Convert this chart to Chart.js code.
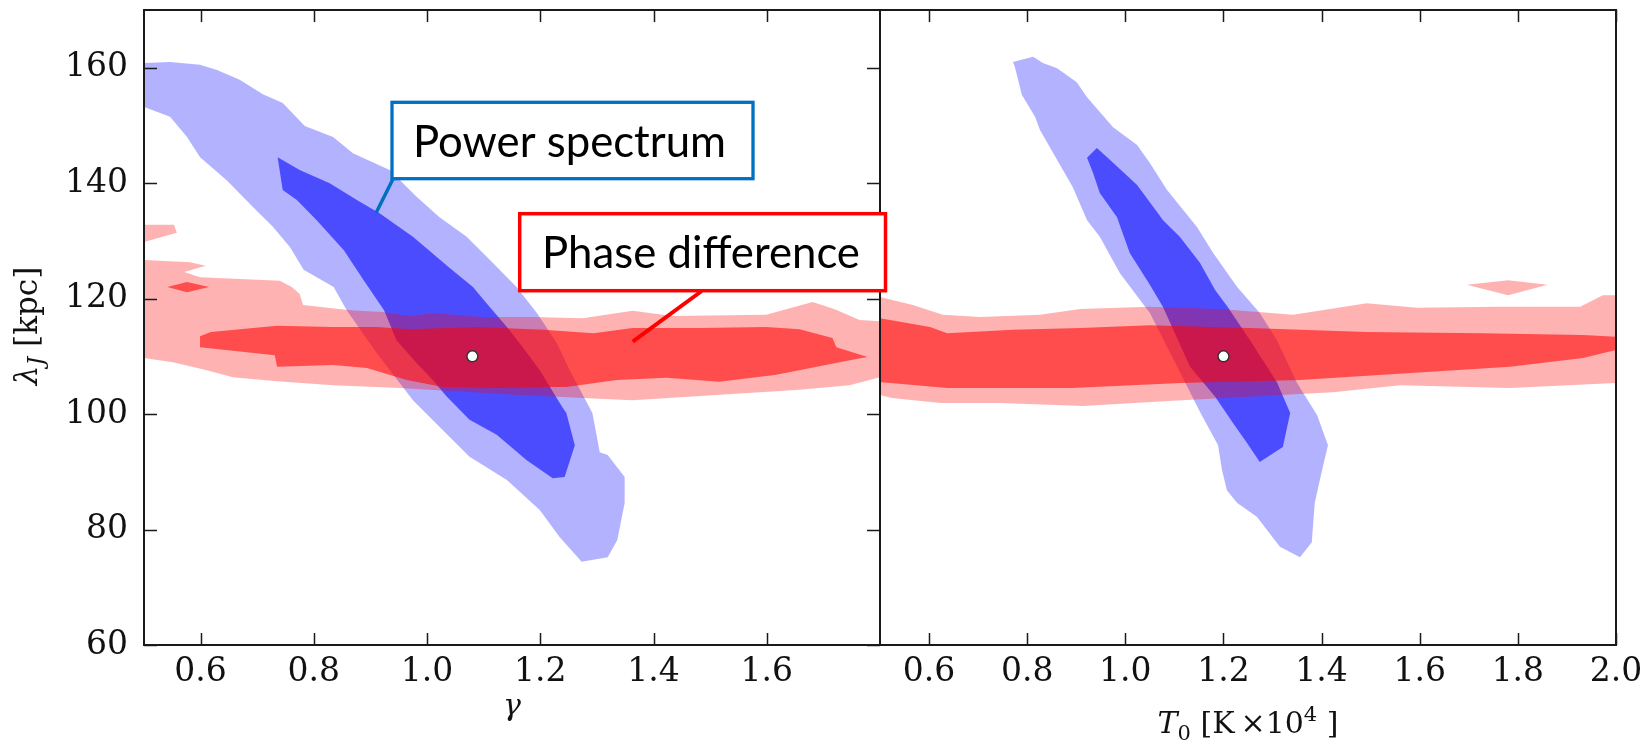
<!DOCTYPE html>
<html>
<head>
<meta charset="utf-8">
<title>Jeans length constraints</title>
<script src="https://cdn.jsdelivr.net/npm/chart.js@4.4.1/dist/chart.umd.min.js"></script>
<style>
  html, body { margin: 0; padding: 0; background: #ffffff; }
  #wrap { position: relative; width: 1651px; height: 742px; overflow: hidden; background: #ffffff; }
  #cRight { position: absolute; left: 800px; top: 0; }
  #cLeft { position: absolute; left: 0; top: 0; }
</style>
</head>
<body>
<div id="wrap">
  <canvas id="cRight" width="851" height="742"></canvas>
  <canvas id="cLeft" width="900" height="742"></canvas>
</div>
<script>
// ---- axis ranges and tick values ----
const lambdaRange = [60, 170];
const gammaRange = [0.5, 1.8];
const t0Range = [0.5, 2.0];
const lambdaTicks = [60, 80, 100, 120, 140, 160];
const gammaTicks = [0.6, 0.8, 1.0, 1.2, 1.4, 1.6];
const t0Ticks = [0.6, 0.8, 1.0, 1.2, 1.4, 1.6, 1.8, 2.0];

// ---- gamma vs lambda_J : power spectrum contours ----
const gammaPs95 = [[0.500,160.8],[0.546,161.0],[0.599,160.5],[0.629,159.6],[0.669,157.9],[0.710,155.4],[0.745,153.9],[0.784,149.9],[0.834,148.0],[0.869,145.2],[0.934,142.3],[0.982,137.6],[1.022,134.1],[1.070,130.7],[1.116,126.2],[1.158,122.0],[1.194,117.5],[1.229,112.3],[1.252,107.6],[1.292,100.2],[1.305,93.4],[1.319,92.9],[1.349,89.1],[1.349,84.6],[1.336,78.2],[1.319,75.2],[1.273,74.4],[1.234,78.7],[1.199,83.4],[1.141,88.6],[1.075,92.6],[1.028,97.2],[0.975,102.4],[0.911,110.6],[0.858,118.0],[0.835,122.0],[0.782,125.0],[0.758,128.9],[0.728,132.4],[0.692,135.9],[0.646,140.5],[0.599,144.5],[0.576,148.0],[0.546,151.5],[0.500,153.2]];
const gammaPs68 = [[0.736,144.5],[0.775,142.3],[0.828,140.0],[0.876,137.1],[0.916,134.8],[0.975,130.7],[1.040,125.3],[1.081,122.0],[1.111,118.5],[1.141,115.1],[1.169,111.6],[1.199,107.6],[1.239,101.2],[1.246,100.2],[1.261,94.6],[1.243,89.1],[1.222,88.9],[1.176,92.0],[1.123,96.4],[1.075,99.0],[1.035,103.0],[1.010,105.9],[0.982,108.8],[0.946,112.8],[0.924,118.0],[0.888,123.2],[0.853,128.4],[0.805,133.6],[0.770,137.1],[0.745,138.8]];

// ---- gamma vs lambda_J : phase difference contours ----
const gammaPd95 = [[0.500,126.7],[0.581,126.3],[0.609,125.7],[0.571,124.6],[0.599,123.7],[0.740,123.1],[0.761,122.0],[0.775,120.8],[0.781,118.9],[0.864,118.0],[0.922,117.7],[0.969,117.0],[1.010,117.5],[1.098,116.8],[1.186,116.8],[1.275,116.6],[1.363,117.9],[1.433,117.0],[1.599,117.2],[1.681,119.4],[1.719,118.2],[1.764,116.3],[1.800,116.1],[1.800,106.4],[1.746,105.0],[1.658,104.2],[1.511,103.3],[1.363,102.4],[1.275,102.8],[1.128,103.5],[1.040,104.0],[0.952,104.5],[0.834,105.0],[0.735,105.7],[0.657,106.4],[0.611,107.6],[0.551,109.0],[0.500,109.7]];
const gammaPd95Islet = [[0.500,132.8],[0.553,132.8],[0.558,131.4],[0.500,129.8]];
const gammaPd68 = [[0.599,113.5],[0.618,114.2],[0.735,115.3],[0.834,115.1],[0.911,115.1],[0.971,114.7],[1.088,115.1],[1.206,114.6],[1.294,114.0],[1.363,114.9],[1.481,114.9],[1.599,115.1],[1.658,114.7],[1.716,113.2],[1.723,111.6],[1.778,109.9],[1.751,109.4],[1.617,106.8],[1.516,105.6],[1.423,106.3],[1.335,105.9],[1.246,104.7],[1.211,104.7],[1.128,104.5],[1.028,104.7],[0.964,105.9],[0.894,108.0],[0.834,108.5],[0.735,108.2],[0.731,110.2],[0.599,111.6]];
const gammaPd68Islet = [[0.541,122.0],[0.576,122.9],[0.615,122.0],[0.576,121.1]];
const gammaBest = [[1.08, 110]];

// ---- T0 vs lambda_J : power spectrum contours ----
const t0Ps95 = [[0.771,161.0],[0.812,161.9],[0.832,160.8],[0.861,159.9],[0.901,157.5],[0.922,154.9],[0.975,149.7],[1.024,146.6],[1.050,143.5],[1.085,138.8],[1.146,132.4],[1.179,127.9],[1.228,122.0],[1.274,117.5],[1.309,112.8],[1.350,105.4],[1.391,99.8],[1.413,94.6],[1.401,90.3],[1.386,84.6],[1.380,77.8],[1.356,75.2],[1.315,77.0],[1.268,82.2],[1.228,84.6],[1.207,86.8],[1.197,90.3],[1.189,94.6],[1.152,100.4],[1.107,108.0],[1.050,117.5],[0.989,124.4],[0.948,130.7],[0.922,133.6],[0.893,139.3],[0.826,149.2],[0.816,151.5],[0.789,155.3],[0.775,160.1]];
const t0Ps68 = [[0.922,144.4],[0.942,146.1],[0.969,144.0],[1.024,139.7],[1.077,133.6],[1.111,130.7],[1.152,126.2],[1.183,121.5],[1.209,118.5],[1.254,112.8],[1.309,105.5],[1.336,100.2],[1.321,94.3],[1.274,91.7],[1.248,95.0],[1.219,98.5],[1.183,103.0],[1.132,108.2],[1.077,118.5],[1.050,122.4],[1.009,127.9],[0.983,134.1],[0.948,138.3],[0.934,141.8]];

// ---- T0 vs lambda_J : phase difference contours ----
const t0Pd95 = [[0.500,120.3],[0.567,118.9],[0.628,117.2],[0.704,116.8],[0.826,117.2],[0.908,118.2],[1.050,118.6],[1.193,118.2],[1.342,117.2],[1.492,119.2],[1.594,118.4],[1.763,118.6],[1.927,118.6],[1.973,120.6],[2.000,120.6],[2.000,105.4],[1.784,104.5],[1.560,105.0],[1.423,103.8],[1.097,102.3],[0.914,101.4],[0.745,101.9],[0.624,101.9],[0.524,102.8],[0.500,103.3]];
const t0Pd95Islet = [[1.696,122.4],[1.780,123.2],[1.861,122.4],[1.780,120.6]];
const t0Pd68 = [[0.500,116.6],[0.602,115.1],[0.637,114.0],[0.771,114.6],[0.908,114.9],[1.050,115.4],[1.254,114.9],[1.492,114.2],[1.729,114.0],[1.933,113.7],[2.000,113.4],[2.000,111.1],[1.933,109.7],[1.784,108.2],[1.525,106.8],[1.356,105.9],[1.113,105.4],[0.891,104.5],[0.637,104.5],[0.504,105.5],[0.500,105.5]];
const t0Best = [[1.2, 110]];

// ---- styling ----
// outer (95%) band drawn at alpha 0.3; the inner (68%) fill stacks on top of it so the
// inner region ends up at an effective alpha of 0.7
const BLUE_OUT = 'rgba(0,0,255,0.30)';
const BLUE_IN = 'rgba(0,0,255,0.5714)';
const RED_OUT = 'rgba(255,0,0,0.30)';
const RED_IN = 'rgba(255,0,0,0.5714)';
const SERIF = '"DejaVu Serif", serif';
const INK = '#111111';

const toXY = arr => arr.map(p => ({ x: p[0], y: p[1] }));

function region(points, color, order) {
  return {
    data: toXY(points),
    backgroundColor: color,
    borderColor: 'rgba(0,0,0,0)',
    borderWidth: 0,
    pointRadius: 0,
    pointHoverRadius: 0,
    tension: 0,
    fill: 'shape',
    order: order
  };
}

function bestFit(points) {
  return {
    data: toXY(points),
    showLine: false,
    pointRadius: 5.5,
    pointHoverRadius: 5.5,
    pointBackgroundColor: '#ffffff',
    pointBorderColor: '#333333',
    pointBorderWidth: 1.5,
    order: 0
  };
}

// Frame around the plotting area and inward-pointing tick marks
const frameTicks = {
  id: 'frameTicks',
  afterDatasetsDraw(chart, args, opts) {
    const { ctx, chartArea: a, scales } = chart;
    const len = 12;
    ctx.save();
    ctx.strokeStyle = '#1a1a1a';
    ctx.lineWidth = 1.5;
    ctx.beginPath();
    scales.x.ticks.forEach(t => {
      const px = Math.round(scales.x.getPixelForValue(t.value)) + 0.5;
      ctx.moveTo(px, a.bottom); ctx.lineTo(px, a.bottom - len);
      ctx.moveTo(px, a.top); ctx.lineTo(px, a.top + len);
    });
    if (opts.yTicks) {
      scales.y.ticks.forEach(t => {
        const py = Math.round(scales.y.getPixelForValue(t.value)) + 0.5;
        ctx.moveTo(a.left, py); ctx.lineTo(a.left + len + 1, py);
        ctx.moveTo(a.right, py); ctx.lineTo(a.right - len - 1, py);
      });
    }
    ctx.stroke();
    ctx.lineWidth = 2;
    ctx.strokeRect(a.left, a.top, a.width, a.height);
    ctx.restore();
  }
};

// Text made of several runs (italic symbols, sub- and superscripts)
function runsWidth(ctx, runs) {
  let w = 0;
  runs.forEach(r => {
    ctx.font = (r.italic ? 'italic ' : '') + r.size + 'px ' + SERIF;
    r.w = ctx.measureText(r.t).width;
    w += r.w;
  });
  return w;
}
function drawRuns(ctx, runs, cx, baseY) {
  const w = runsWidth(ctx, runs);
  let x = cx - w / 2;
  ctx.textAlign = 'left';
  ctx.textBaseline = 'alphabetic';
  runs.forEach(r => {
    ctx.font = (r.italic ? 'italic ' : '') + r.size + 'px ' + SERIF;
    ctx.fillText(r.t, x, baseY + (r.dy || 0));
    x += r.w;
  });
}

const axisTitles = {
  id: 'axisTitles',
  afterDraw(chart, args, opts) {
    const { ctx, chartArea: a } = chart;
    ctx.save();
    ctx.fillStyle = INK;
    drawRuns(ctx, opts.xRuns, (a.left + a.right) / 2, opts.xBase);
    if (opts.yRuns) {
      ctx.translate(opts.yBase, opts.yMid);
      ctx.rotate(-Math.PI / 2);
      drawRuns(ctx, opts.yRuns, 0, 0);
    }
    ctx.restore();
  }
};

// Labelled call-out boxes pointing at the two sets of contours
const CALLOUT_FONT = 'Lato, "Open Sans", sans-serif';
function callout(ctx, c) {
  ctx.save();
  ctx.strokeStyle = c.color;
  ctx.lineCap = 'butt';
  ctx.lineWidth = c.leaderWidth;
  ctx.beginPath();
  ctx.moveTo(c.leader[0], c.leader[1]);
  ctx.lineTo(c.leader[2], c.leader[3]);
  ctx.stroke();
  ctx.fillStyle = '#ffffff';
  ctx.fillRect(c.x0, c.y0, c.x1 - c.x0, c.y1 - c.y0);
  ctx.lineWidth = c.boxWidth;
  ctx.strokeRect(c.x0, c.y0, c.x1 - c.x0, c.y1 - c.y0);
  ctx.font = '100px ' + CALLOUT_FONT;
  const size = 100 * c.textWidth / ctx.measureText(c.text).width;
  ctx.font = size.toFixed(2) + 'px ' + CALLOUT_FONT;
  ctx.fillStyle = '#000000';
  ctx.textAlign = 'left';
  ctx.textBaseline = 'alphabetic';
  ctx.fillText(c.text, c.tx, c.ty);
  ctx.restore();
}
const callouts = {
  id: 'callouts',
  afterDraw(chart) {
    const ctx = chart.ctx;
    callout(ctx, {
      text: 'Power spectrum', color: '#0070C0',
      x0: 392, y0: 102.3, x1: 753, y1: 178.7, boxWidth: 3.3,
      tx: 413, ty: 157, textWidth: 313,
      leader: [393, 179, 376, 213], leaderWidth: 3.5
    });
    callout(ctx, {
      text: 'Phase difference', color: '#FF0000',
      x0: 519.7, y0: 213.7, x1: 885.5, y1: 290.7, boxWidth: 3.5,
      tx: 542, ty: 268.3, textWidth: 318,
      leader: [701.7, 291, 632.7, 341.7], leaderWidth: 4
    });
  }
};

function tickFont() { return { family: SERIF, size: 33 }; }

function makePanel(canvas, p) {
  return new Chart(canvas, {
    type: 'line',
    data: { datasets: p.datasets },
    options: {
      responsive: false,
      animation: false,
      events: [],
      devicePixelRatio: 1,
      layout: { padding: p.padding },
      plugins: {
        legend: { display: false },
        tooltip: { enabled: false },
        frameTicks: { yTicks: p.yTicks },
        axisTitles: p.titles
      },
      scales: {
        x: {
          type: 'linear',
          min: p.xRange[0],
          max: p.xRange[1],
          afterBuildTicks: s => { s.ticks = p.xTicks.map(v => ({ value: v })); },
          afterFit: s => { s.height = 97; s.paddingLeft = 0; s.paddingRight = 0; },
          grid: { display: false, drawTicks: false },
          border: { display: false },
          ticks: {
            font: tickFont(), color: INK, padding: 8,
            maxRotation: 0, autoSkip: false,
            callback: v => Number(v).toFixed(1)
          }
        },
        y: {
          type: 'linear',
          display: p.yTicks,
          min: lambdaRange[0],
          max: lambdaRange[1],
          afterBuildTicks: s => { s.ticks = lambdaTicks.map(v => ({ value: v })); },
          afterFit: s => { s.width = p.yTicks ? 144 : 0; s.paddingTop = 0; s.paddingBottom = 0; },
          grid: { display: false, drawTicks: false },
          border: { display: false },
          ticks: {
            font: tickFont(), color: INK, padding: 16,
            autoSkip: false,
            callback: v => String(v)
          }
        }
      }
    },
    plugins: p.plugins
  });
}

// right panel: T0 (drawn first, underneath)
makePanel(document.getElementById('cRight'), {
  xRange: t0Range,
  xTicks: t0Ticks,
  yTicks: false,
  padding: { left: 80, right: 35, top: 10, bottom: 0 },
  titles: {
    xBase: 733,
    xRuns: [
      { t: 'T', italic: true, size: 30 },
      { t: '0', size: 21, dy: 7 },
      { t: ' [K\u2009\u00d710', size: 30 },
      { t: '4', size: 21, dy: -12 },
      { t: ' ]', size: 30 }
    ]
  },
  datasets: [
    region(t0Ps95, BLUE_OUT, 6),
    region(t0Ps68, BLUE_IN, 5),
    region(t0Pd95, RED_OUT, 4),
    region(t0Pd95Islet, RED_OUT, 3),
    region(t0Pd68, RED_IN, 2),
    bestFit(t0Best)
  ],
  plugins: [frameTicks, axisTitles]
});

// left panel: gamma (with the lambda_J axis and the call-outs)
makePanel(document.getElementById('cLeft'), {
  xRange: gammaRange,
  xTicks: gammaTicks,
  yTicks: true,
  padding: { left: 0, right: 20, top: 10, bottom: 0 },
  titles: {
    xBase: 715,
    xRuns: [{ t: '\u03b3', italic: true, size: 30 }],
    yBase: 37,
    yMid: 326,
    yRuns: [
      { t: '\u03bb', italic: true, size: 31 },
      { t: 'J', italic: true, size: 22, dy: 6 },
      { t: ' [kpc]', size: 31 }
    ]
  },
  datasets: [
    region(gammaPs95, BLUE_OUT, 7),
    region(gammaPs68, BLUE_IN, 6),
    region(gammaPd95, RED_OUT, 5),
    region(gammaPd95Islet, RED_OUT, 4),
    region(gammaPd68, RED_IN, 3),
    region(gammaPd68Islet, RED_IN, 2),
    bestFit(gammaBest)
  ],
  plugins: [frameTicks, axisTitles, callouts]
});
</script>
</body>
</html>
